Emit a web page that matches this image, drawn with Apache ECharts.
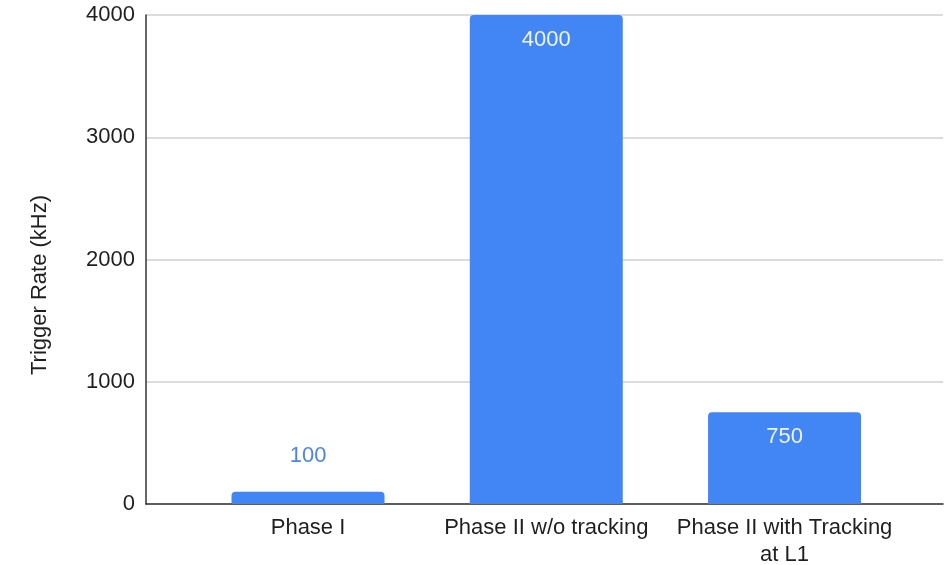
<!DOCTYPE html>
<html>
<head>
<meta charset="utf-8">
<title>Trigger Rate</title>
<script src="https://cdn.jsdelivr.net/npm/echarts@6/dist/echarts.min.js"></script>
<style>
  html, body { margin: 0; padding: 0; background: #ffffff; }
  #chart { width: 945px; height: 565px; }
</style>
</head>
<body>
<div id="chart"></div>
<script>
// Trigger rates per detector configuration
const categories = ['Phase I', 'Phase II w/o tracking', 'Phase II with Tracking\nat L1'];
const rates = [100, 4000, 750];
const yTicks = [0, 1000, 2000, 3000, 4000];

const FONT = '"Liberation Sans", Arial, Helvetica, sans-serif';
const BAR_COLOR = '#4285f4';

// Short bars get their value label above; taller ones carry it inside the top
const barData = rates.map((v, i) => ({
  value: [i, v],
  label: v < 400
    ? { position: 'top', distance: 25, color: '#4a86e8' }
    : { position: 'insideTop', distance: 14, color: '#eef3fd' }
}));

const chart = echarts.init(document.getElementById('chart'), null, { renderer: 'canvas' });

chart.setOption({
  animation: false,
  backgroundColor: '#ffffff',
  grid: {
    left: 146, right: 2, top: 15, bottom: 61,
    containLabel: false,
    outerBoundsMode: 'none'
  },
  xAxis: {
    type: 'value',
    min: -0.68,
    max: 2.665,
    axisLine: { show: true, onZero: false, lineStyle: { color: '#333333', width: 1.5 } },
    axisTick: { show: false },
    splitLine: { show: false },
    axisLabel: {
      customValues: categories.map((_, i) => i),
      formatter: v => categories[Math.round(v)] || '',
      color: '#1f1f1f',
      fontFamily: FONT,
      fontSize: 22,
      lineHeight: 27,
      margin: 10,
      align: 'center'
    }
  },
  yAxis: {
    type: 'value',
    min: yTicks[0],
    max: yTicks[yTicks.length - 1],
    interval: 1000,
    axisLine: { show: true, onZero: false, lineStyle: { color: '#333333', width: 1.5 } },
    axisTick: { show: false },
    splitLine: { show: true, lineStyle: { color: '#d0d0d0', width: 1.5 } },
    axisLabel: {
      color: '#1f1f1f',
      fontFamily: FONT,
      fontSize: 22,
      margin: 11,
      formatter: v => String(v)
    }
  },
  graphic: [{
    type: 'text',
    x: 40,
    y: 285,
    rotation: Math.PI / 2,
    style: {
      text: 'Trigger Rate (kHz)',
      fill: '#1f1f1f',
      font: '22px ' + FONT,
      align: 'center',
      verticalAlign: 'middle'
    }
  }],
  series: [{
    type: 'bar',
    data: barData,
    barWidth: 153,
    itemStyle: { color: BAR_COLOR, borderRadius: [4, 4, 0, 0] },
    label: {
      show: true,
      fontFamily: FONT,
      fontSize: 22,
      formatter: p => String(p.value[1])
    }
  }]
});
</script>
</body>
</html>
